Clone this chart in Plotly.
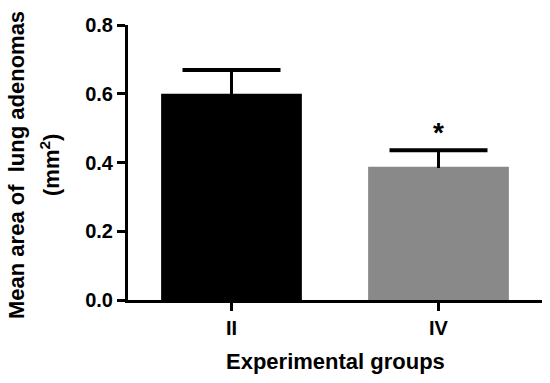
import plotly.graph_objects as go

groups = ["II", "IV"]
means = [0.600, 0.388]
sem = [0.069, 0.048]
bar_colors = ["#000000", "#898989"]
sig_marks = ["", "*"]
y_ticks = [0.0, 0.2, 0.4, 0.6, 0.8]
y_tick_labels = ["0.0", "0.2", "0.4", "0.6", "0.8"]

FONT = "Liberation Sans, Arial, sans-serif"

fig = go.Figure()
fig.add_trace(go.Bar(
    x=groups, y=means,
    marker=dict(color=bar_colors, line=dict(width=0)),
    width=0.68,
    showlegend=False, hoverinfo="skip",
))

# upward-only error bars: stems + caps
stem_x, stem_y = [], []
for g, m, e in zip(groups, means, sem):
    stem_x += [g, g, None]
    stem_y += [m - 0.004, m + e, None]
fig.add_trace(go.Scatter(x=stem_x, y=stem_y, mode="lines",
                         line=dict(color="#000", width=3), showlegend=False,
                         hoverinfo="skip"))
fig.add_trace(go.Scatter(x=groups, y=[m + e for m, e in zip(means, sem)], mode="markers",
                         marker=dict(symbol="line-ew", size=70,
                                     line=dict(color="#000", width=4)),
                         showlegend=False, hoverinfo="skip"))

for g, m, e, s in zip(groups, means, sem, sig_marks):
    if s:
        fig.add_annotation(x=g, y=m + e, text="<b>" + s + "</b>", showarrow=False,
                           yshift=18, font=dict(family=FONT, size=28, color="#000"))

fig.add_annotation(xref="paper", yref="paper", x=0, y=0.491, xanchor="center", yanchor="middle",
                   xshift=-111, textangle=-90, showarrow=False,
                   text="<b>Mean area of  lung adenomas</b>",
                   font=dict(family=FONT, size=22, color="#000"))
fig.add_annotation(xref="paper", yref="paper", x=0, y=0.491, xanchor="center", yanchor="middle",
                   xshift=-78, textangle=-90, showarrow=False,
                   text="<b>(mm<sup>2</sup>)</b>",
                   font=dict(family=FONT, size=22, color="#000"))
fig.add_annotation(xref="paper", yref="paper", x=0.5, y=0, xanchor="center", yanchor="middle",
                   yshift=-61, showarrow=False,
                   text="<b>Experimental groups</b>",
                   font=dict(family=FONT, size=22, color="#000"))

fig.update_layout(
    width=550, height=383,
    margin=dict(l=128, r=8, t=25, b=83, autoexpand=False),
    plot_bgcolor="white", paper_bgcolor="white",
    font=dict(family=FONT, color="#000", size=16),
)
fig.update_xaxes(
    range=[-0.5, 1.5], showline=True, linecolor="#000", linewidth=3,
    ticks="outside", ticklen=8, tickwidth=3, tickcolor="#000",
    tickfont=dict(family=FONT, size=20, color="#000"),
    ticktext=["<b>II</b>", "<b>IV</b>"], tickvals=groups,
    showgrid=False, zeroline=False, automargin=False,
)
fig.update_yaxes(
    range=[0, 0.8], showline=True, linecolor="#000", linewidth=3,
    ticks="outside", ticklen=8, tickwidth=3, tickcolor="#000",
    tickvals=y_ticks, ticktext=["<b>" + t + "</b>" for t in y_tick_labels],
    tickfont=dict(family=FONT, size=20, color="#000"),
    showgrid=False, zeroline=False, automargin=False,
)

fig.write_html("out.html", config={"displayModeBar": False},
               post_script="document.body.style.margin='0px';document.body.style.overflow='hidden';")
